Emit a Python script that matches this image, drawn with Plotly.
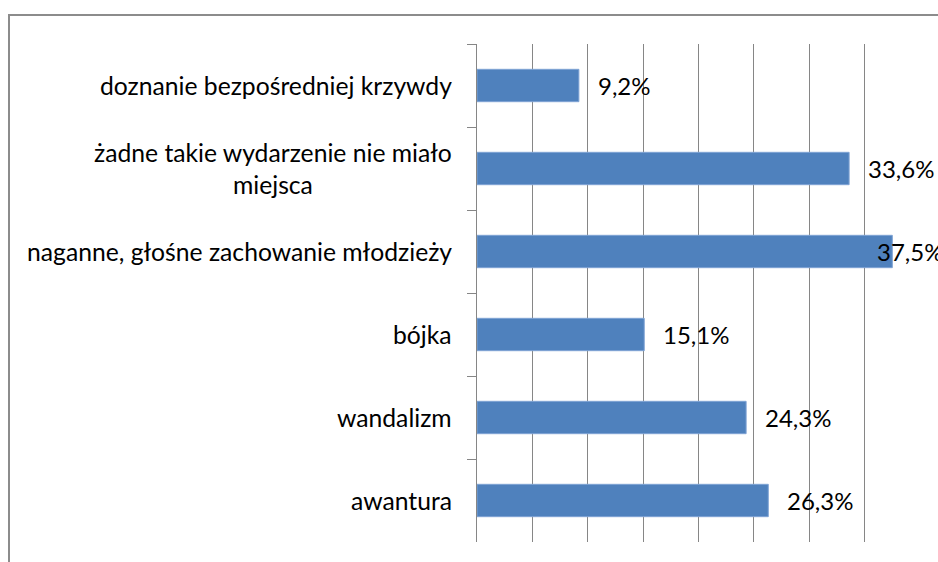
import plotly.graph_objects as go

# Categories listed top to bottom as they appear in the chart
categories = [
    "doznanie bezpośredniej krzywdy",
    "żadne takie wydarzenie nie miało<br>miejsca",
    "naganne, głośne zachowanie młodzieży",
    "bójka",
    "wandalizm",
    "awantura",
]
values = [9.2, 33.6, 37.5, 15.1, 24.3, 26.3]
value_labels = ["9,2%", "33,6%", "37,5%", "15,1%", "24,3%", "26,3%"]

BAR_COLOR = "#4F81BD"
GRID_COLOR = "#868686"
FONT = "Lato"
X_MAX = 40

W, H = 938, 562
M_L, M_R, M_T, M_B = 477, 18, 44, 20

fig = go.Figure()
fig.add_bar(
    x=values,
    y=categories,
    orientation="h",
    marker=dict(color=BAR_COLOR, line=dict(color="#7FA3D4", width=1)),
    hoverinfo="skip",
)

# Category labels: right-aligned block, lines centred (Excel style)
for cat in categories:
    fig.add_annotation(
        x=0, xref="paper", y=cat, yref="y",
        text=cat, showarrow=False,
        xanchor="right", yanchor="middle", align="center",
        xshift=-23,
        font=dict(family=FONT, size=24.7, color="black"),
    )

# Data labels; ones that would run off the plot sit back over the bar end
for cat, v, lab in zip(categories, values, value_labels):
    shift = 17 if v + 6 < X_MAX else -17
    fig.add_annotation(
        x=v, y=cat, text=lab, showarrow=False,
        xanchor="left", yanchor="middle", xshift=shift,
        font=dict(family=FONT, size=24, color="black"),
    )

# Outer chart frame (runs off the right and bottom of the picture)
pw, ph = W - M_L - M_R, H - M_T - M_B
fig.add_shape(
    type="rect", xref="paper", yref="paper",
    x0=(9 - M_L) / pw, x1=(W + 10 - M_L) / pw,
    y0=-(M_B + 10) / ph, y1=(H - M_B - 15) / ph,
    line=dict(color="#8C8C8C", width=2), layer="below",
)

fig.update_layout(
    width=W, height=H,
    margin=dict(l=M_L, r=M_R, t=M_T, b=M_B),
    plot_bgcolor="white", paper_bgcolor="white",
    showlegend=False,
    bargap=0.61,
    font=dict(family=FONT, size=24, color="black"),
    xaxis=dict(
        range=[0, X_MAX], dtick=5, showgrid=True,
        gridcolor=GRID_COLOR, gridwidth=1,
        showticklabels=False, zeroline=False, showline=False, ticks="",
        fixedrange=True,
    ),
    yaxis=dict(
        type="category", autorange="reversed",
        showticklabels=False, showgrid=False,
        showline=True, linecolor=GRID_COLOR, linewidth=1,
        ticks="outside", tickson="boundaries", ticklen=9,
        tickcolor=GRID_COLOR, tickwidth=1,
        fixedrange=True,
    ),
)

# drop the browser's default body margin so the figure fills the window exactly
fig.write_html(
    "out.html",
    config={"displayModeBar": False},
    post_script="document.body.style.margin='0';document.body.style.overflow='hidden';",
)
